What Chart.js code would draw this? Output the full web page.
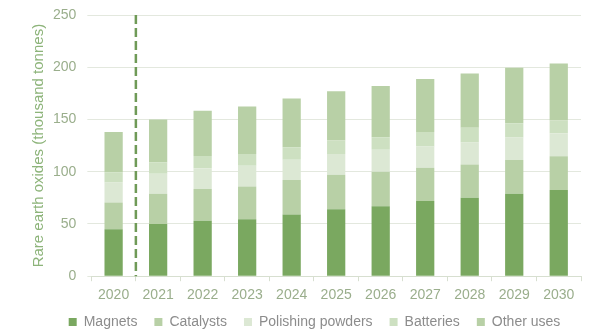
<!DOCTYPE html>
<html>
<head>
<meta charset="utf-8">
<script src="https://cdn.jsdelivr.net/npm/chart.js@4/dist/chart.umd.min.js"></script>
<style>
  html, body { margin: 0; padding: 0; background: #fff; }
  #wrap { width: 591px; height: 331px; position: relative; }
</style>
</head>
<body>
<div id="wrap"><canvas id="chart"></canvas></div>
<script>
const years = ["2020", "2021", "2022", "2023", "2024", "2025", "2026", "2027", "2028", "2029", "2030"];

const magnets = [45, 50, 53, 54.5, 59, 64, 67, 72, 75, 79, 82.4];
const catalysts = [25.6, 29, 30.5, 31.4, 33, 33, 33, 31.7, 32, 32.3, 32.3];
const polishing = [19.2, 19, 19.8, 19.9, 19.5, 20, 21, 20.5, 21, 21.5, 22.1];
const batteries = [9.6, 11, 11.7, 11.2, 12, 13, 12, 13.8, 14, 13.5, 12.2];
const otherUses = [38.5, 41, 43.3, 45.5, 46.5, 47, 49, 50.7, 52, 53.2, 54.5];

const labelColor = "#9aae8c";
const titleColor = "#8db47a";
const font = "Liberation Sans, Arial, sans-serif";

// dashed separator between the actual year and the projections
const dashLine = {
  id: "dashLine",
  afterDatasetsDraw(chart) {
    const x = chart.scales.x;
    const y = chart.scales.y;
    const px = (x.getPixelForValue(0) + x.getPixelForValue(1)) / 2;
    const ctx = chart.ctx;
    ctx.save();
    ctx.strokeStyle = "#6f9a57";
    ctx.lineWidth = 2.5;
    ctx.setLineDash([9, 4]);
    ctx.beginPath();
    ctx.moveTo(px, y.getPixelForValue(250));
    ctx.lineTo(px, y.getPixelForValue(0));
    ctx.stroke();
    ctx.restore();
  },
};

// nudge the legend a bit, like in the original (box grown so text isn't clipped)
const legendShift = {
  id: "legendShift",
  afterLayout(chart) {
    const lg = chart.legend;
    lg.left += 9;
    lg.right += 9;
    lg.top -= 12;
    lg.bottom += 20;
  },
};

function makeSet(label, data, color) {
  return {
    label: label,
    data: data,
    backgroundColor: color,
    borderWidth: 0,
    barPercentage: 0.82,
    categoryPercentage: 0.5,
  };
}

let chart1 = new Chart(document.querySelector("#chart"), {
  type: "bar",
  data: {
    labels: years,
    datasets: [
      makeSet("Magnets", magnets, "#7aa860"),
      makeSet("Catalysts", catalysts, "#b8d0a6"),
      makeSet("Polishing powders", polishing, "#dce8d4"),
      makeSet("Batteries", batteries, "#cde0c1"),
      makeSet("Other uses", otherUses, "#b8d0a6"),
    ],
  },
  options: {
    responsive: true,
    maintainAspectRatio: false,
    animation: false,
    layout: { padding: { left: 30, right: 10, top: 0, bottom: 0 } },
    plugins: {
      tooltip: { enabled: false },
      legend: {
        position: "bottom",
        maxHeight: 21,
        labels: {
          boxWidth: 8,
          boxHeight: 8,
          padding: 17,
          color: "#8c8c8c",
          font: { family: font, size: 14 },
        },
      },
    },
    scales: {
      x: {
        stacked: true,
        grid: {
          display: true,
          drawOnChartArea: false,
          drawTicks: true,
          tickLength: 5,
          offset: true,
          color: "#d7dfd0",
        },
        border: { color: "#d7dfd0" },
        ticks: {
          color: labelColor,
          padding: 6,
          maxRotation: 0,
          font: { family: font, size: 14 },
        },
      },
      y: {
        stacked: true,
        min: 0,
        max: 250,
        afterFit(scale) {
          scale.paddingTop = 15;
        },
        grid: { color: "#e3e8de", tickLength: 4 },
        border: { display: false },
        ticks: {
          stepSize: 50,
          color: labelColor,
          padding: 11,
          font: { family: font, size: 14, lineHeight: 1 },
        },
        title: {
          display: true,
          text: "Rare earth oxides (thousand tonnes)",
          color: titleColor,
          padding: { top: 0, bottom: -6 },
          font: { family: font, size: 15 },
        },
      },
    },
  },
  plugins: [dashLine, legendShift],
});
</script>
</body>
</html>
